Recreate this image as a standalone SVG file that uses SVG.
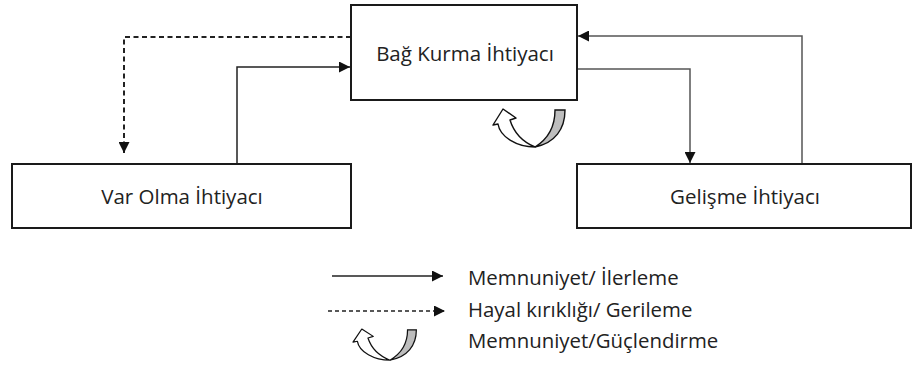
<svg xmlns="http://www.w3.org/2000/svg" width="913" height="370" viewBox="0 0 913 370">
<style>
.box{fill:#fff;stroke:#1a1a1a;stroke-width:2}
.lbl{font-family:"Open Sans","Liberation Sans",sans-serif;font-size:20.5px;fill:#222;text-anchor:middle}
.leg{font-family:"Open Sans","Liberation Sans",sans-serif;font-size:20.4px;fill:#222}
.solid{fill:none;stroke:#222;stroke-width:1.5}
.solidg{fill:none;stroke:#555;stroke-width:1.5}
.dash{fill:none;stroke:#222;stroke-width:2;stroke-dasharray:5,3.5}
</style>
<defs>
<marker id="ah" viewBox="0 0 10 10" refX="10" refY="5" markerWidth="12" markerHeight="11" markerUnits="userSpaceOnUse" orient="auto">
<path d="M0,0 L10,5 L0,10 Z" fill="#111"/>
</marker>
<g id="curl">
<path d="M42,38 C62,34 72,20 72,1 L62,1 C62,18 55,30 42,38 Z" fill="#bdbdbd" stroke="#111" stroke-width="1.4"/>
<path d="M42,38 C24,38 7,28 5,15 L0,16 L10,0 L23,9 L17,11 C21,24 30,33 42,38 Z" fill="#fff" stroke="#111" stroke-width="1.4" stroke-linejoin="round"/>
</g>
</defs>
<g id="connectors">
<path class="dash" d="M351,37 H124 V153" marker-end="url(#ah)"/>
<path class="solid" d="M237,164 V67 H350" marker-end="url(#ah)"/>
<path class="solidg" d="M802,164 V36 H578" marker-end="url(#ah)"/>
<path class="solidg" d="M577,69 H690 V163" marker-end="url(#ah)"/>
</g>
<g id="bag-kurma">
<rect class="box" x="351" y="5" width="226" height="95"/>
<text class="lbl" x="465" y="61">Bağ Kurma İhtiyacı</text>
</g>
<g id="var-olma">
<rect class="box" x="12" y="164" width="339" height="64"/>
<text class="lbl" x="182" y="204">Var Olma İhtiyacı</text>
</g>
<g id="gelisme">
<rect class="box" x="577" y="164" width="334" height="64"/>
<text class="lbl" x="745" y="204">Gelişme İhtiyacı</text>
</g>
<g id="reinforce">
<use href="#curl" x="493" y="109"/>
</g>
<g id="legend">
<line class="solid" x1="332" y1="276" x2="443" y2="276" marker-end="url(#ah)"/>
<text class="leg" x="468" y="285">Memnuniyet/ İlerleme</text>
<line class="solid" x1="328" y1="311" x2="445" y2="311" stroke-dasharray="4,3" marker-end="url(#ah)"/>
<text class="leg" x="468" y="317">Hayal kırıklığı/ Gerileme</text>
<use href="#curl" transform="translate(353,329) scale(0.88,0.82)"/>
<text class="leg" x="468" y="348">Memnuniyet/Güçlendirme</text>
</g>
</svg>
